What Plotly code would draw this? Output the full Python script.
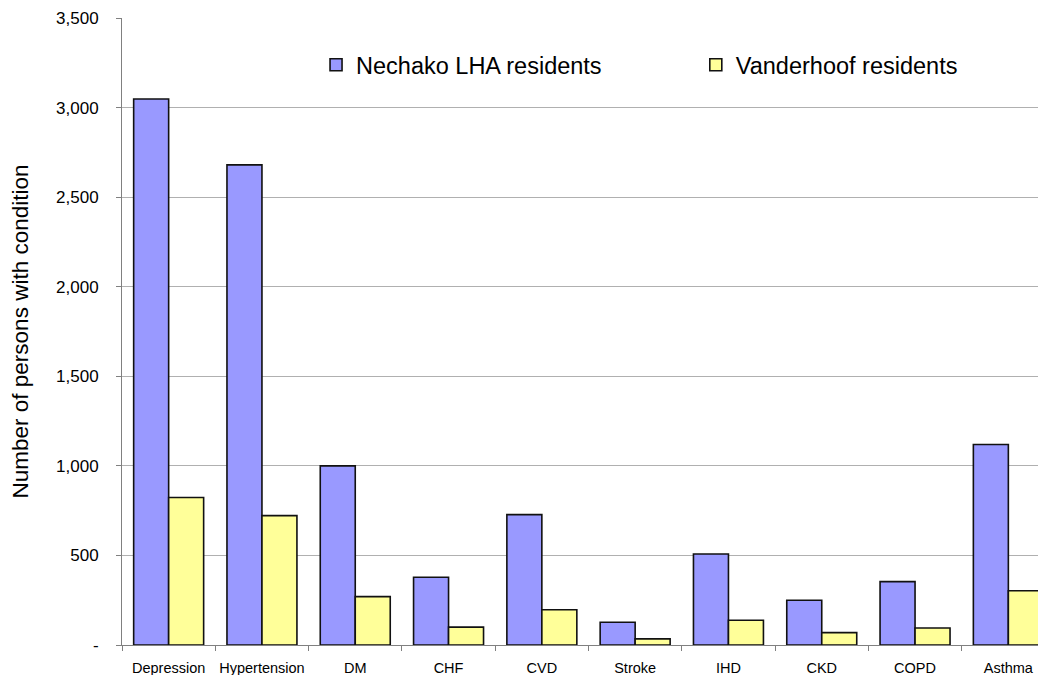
import plotly.graph_objects as go

categories = ["Depression", "Hypertension", "DM", "CHF", "CVD", "Stroke", "IHD", "CKD", "COPD", "Asthma"]
nechako = [3048, 2680, 1000, 378, 728, 127, 508, 250, 354, 1119]
vanderhoof = [823, 722, 270, 100, 197, 34, 138, 69, 95, 303]
y_tickvals = [0, 500, 1000, 1500, 2000, 2500, 3000, 3500]
y_ticktext = ["-", "500", "1,000", "1,500", "2,000", "2,500", "3,000", "3,500"]

FONT = "Liberation Sans, Arial, sans-serif"

fig = go.Figure()
fig.add_trace(go.Bar(
    x=categories, y=nechako, name="Nechako LHA residents",
    marker=dict(color="#9999FF", line=dict(color="#111111", width=1.6)),
    legend="legend",
))
fig.add_trace(go.Bar(
    x=categories, y=vanderhoof, name="Vanderhoof residents",
    marker=dict(color="#FFFF99", line=dict(color="#111111", width=1.6)),
    legend="legend2",
))

fig.update_layout(
    width=1046, height=675,
    margin=dict(l=114, r=8, t=10, b=38, autoexpand=False),
    paper_bgcolor="white", plot_bgcolor="white",
    font=dict(family=FONT, color="black"),
    barmode="group", bargap=0.25, bargroupgap=0,
    showlegend=True,
    legend=dict(x=0.2100, y=0.925, xanchor="left", yanchor="middle",
                font=dict(size=23.5, family=FONT), bgcolor="rgba(0,0,0,0)",
                borderwidth=0),
    legend2=dict(x=0.6210, y=0.925, xanchor="left", yanchor="middle",
                 font=dict(size=23.5, family=FONT), bgcolor="rgba(0,0,0,0)",
                 borderwidth=0),
)

fig.update_xaxes(
    range=[-0.5, -0.5 + 924 / 93.3],
    automargin=False, tickangle=0,
    showline=True, linecolor="#808080", linewidth=1,
    ticks="outside", tickson="boundaries", ticklen=5, tickcolor="#808080",
    ticklabelstandoff=10,
    tickfont=dict(size=14.5, family=FONT, color="black"),
    showgrid=False,
)
fig.update_yaxes(
    range=[0, 3500],
    automargin=False,
    tickvals=y_tickvals, ticktext=y_ticktext,
    showline=True, linecolor="#808080", linewidth=1,
    ticks="outside", ticklen=5, tickcolor="#808080",
    ticklabelstandoff=14,
    tickfont=dict(size=17, family=FONT, color="black"),
    showgrid=True, gridcolor="#B0B0B0", gridwidth=1,
    zeroline=False,
    title=dict(text="Number of persons with condition",
               font=dict(size=22.5, family=FONT, color="black"), standoff=23),
)

fig.write_html("out.html")
